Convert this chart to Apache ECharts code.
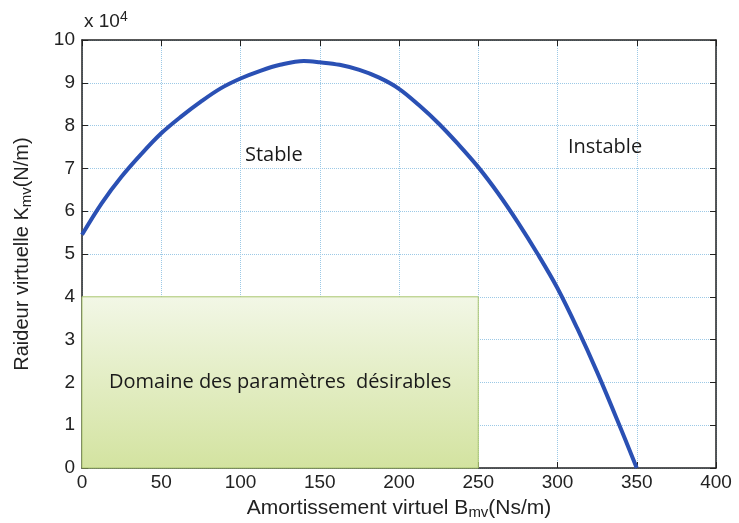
<!DOCTYPE html>
<html>
<head>
<meta charset="utf-8">
<script src="https://cdn.jsdelivr.net/npm/echarts@6/dist/echarts.min.js"></script>
<style>
  html, body { margin: 0; padding: 0; background: #ffffff; }
  #chart { width: 739px; height: 523px; }
</style>
</head>
<body>
<div id="chart"></div>
<script>
// Stability boundary: virtual damping B_mv (Ns/m) vs. virtual stiffness K_mv (x 1e4 N/m)
const dampingB = [0, 12.5, 25, 37.5, 50, 62.5, 75, 87.5, 100, 112.5, 125, 140, 150, 162.5, 175, 187.5,
                  200, 212.5, 225, 237.5, 250, 262.5, 275, 287.5, 300, 312.5, 325, 337.5, 350];
const stiffnessK = [5.45, 6.19, 6.81, 7.34, 7.82, 8.21, 8.56, 8.87, 9.10, 9.28, 9.42, 9.51, 9.48, 9.42, 9.30, 9.12,
                    8.86, 8.48, 8.05, 7.56, 7.03, 6.42, 5.74, 5.00, 4.20, 3.26, 2.24, 1.14, 0];

// Desirable parameter region (B from 0 to 250, K from 0 to 4 x 1e4)
const regionB = [0, 250];
const regionK = [0, 4];

// Region annotations: [text, B, K]
const annotations = [
  ['Stable', 121, 7.3],
  ['Instable', 330, 7.5]
];

const labelFont = 'Liberation Sans, Arial, sans-serif';
const noteFont = 'Open Sans, Lato, sans-serif';

const chart = echarts.init(document.getElementById('chart'), null, { renderer: 'canvas' });

const curve = dampingB.map((b, i) => [b, stiffnessK[i]]);

const subStyle = { fontFamily: labelFont, fontSize: 15, color: '#222', verticalAlign: 'bottom', padding: [9, 0, 0, 0] };

chart.setOption({
  backgroundColor: '#ffffff',
  animation: false,
  grid: { left: 82, right: 23, top: 40, bottom: 55, show: false, containLabel: false, outerBoundsMode: 'none' },
  xAxis: [{
    type: 'value', min: 0, max: 400, interval: 50,
    position: 'bottom',
    name: 'Amortissement virtuel B{sub|mv}(Ns/m)',
    nameLocation: 'middle', nameGap: 28,
    nameTextStyle: {
      fontFamily: labelFont, fontSize: 21, color: '#222',
      rich: { sub: subStyle }
    },
    axisLine: { show: true, onZero: false, lineStyle: { color: '#222', width: 1.5 } },
    axisTick: { show: true, inside: true, length: 6, lineStyle: { color: '#222' } },
    axisLabel: { fontFamily: labelFont, fontSize: 19, color: '#222', margin: 5 },
    splitLine: { show: true, lineStyle: { type: 'dotted', color: '#9cc9e6', width: 1 } }
  }, {
    type: 'value', min: 0, max: 400, interval: 50,
    position: 'top',
    axisLine: { show: true, onZero: false, lineStyle: { color: '#222', width: 1.5 } },
    axisTick: { show: true, inside: true, length: 6, lineStyle: { color: '#222' } },
    axisLabel: { show: false },
    splitLine: { show: false }
  }],
  yAxis: [{
    type: 'value', min: 0, max: 10, interval: 1,
    position: 'left',
    name: 'Raideur virtuelle K{sub|mv}(N/m)',
    nameLocation: 'middle', nameGap: 48, nameRotate: 90,
    nameTextStyle: {
      fontFamily: labelFont, fontSize: 20, color: '#222',
      rich: { sub: subStyle }
    },
    axisLine: { show: true, onZero: false, lineStyle: { color: '#222', width: 1.5 } },
    axisTick: { show: true, inside: true, length: 6, lineStyle: { color: '#222' } },
    axisLabel: { fontFamily: labelFont, fontSize: 19, color: '#222', margin: 7 },
    splitLine: { show: true, lineStyle: { type: 'dotted', color: '#9cc9e6', width: 1 } }
  }, {
    type: 'value', min: 0, max: 10, interval: 1,
    position: 'right',
    axisLine: { show: true, onZero: false, lineStyle: { color: '#222', width: 1.5 } },
    axisTick: { show: true, inside: true, length: 6, lineStyle: { color: '#222' } },
    axisLabel: { show: false },
    splitLine: { show: false }
  }],
  graphic: [{
    type: 'text', left: 84, top: 10,
    style: {
      text: 'x 10{sup|4}',
      font: '19px ' + labelFont,
      fill: '#222',
      rich: { sup: { fontFamily: labelFont, fontSize: 14, fill: '#222', verticalAlign: 'top', padding: [0, 0, 10, 0] } }
    }
  }],
  series: [{
    // Desirable region box and its annotation
    type: 'line',
    data: [],
    silent: true,
    markArea: {
      silent: true,
      itemStyle: {
        color: {
          type: 'linear', x: 0, y: 0, x2: 0, y2: 1,
          colorStops: [
            { offset: 0, color: '#f2f7e6' },
            { offset: 1, color: '#d3e3a0' }
          ]
        },
        borderColor: '#a9c56e',
        borderWidth: 1
      },
      label: {
        show: true, position: 'inside',
        formatter: 'Domaine des paramètres  désirables',
        fontFamily: noteFont, fontSize: 20, color: '#1a1a1a'
      },
      data: [[
        { coord: [regionB[0], regionK[1]] },
        { coord: [regionB[1], regionK[0]] }
      ]]
    },
    markPoint: {
      silent: true,
      symbol: 'circle', symbolSize: 0,
      label: {
        show: true, position: 'inside',
        formatter: p => p.name,
        fontFamily: noteFont, fontSize: 20, color: '#1a1a1a'
      },
      data: annotations.map(a => ({ name: a[0], coord: [a[1], a[2]] }))
    }
  }, {
    // Stability boundary curve
    type: 'line',
    data: curve,
    smooth: 0.35,
    showSymbol: false,
    lineStyle: { color: '#2a50b4', width: 4 },
    z: 5
  }]
});
</script>
</body>
</html>
